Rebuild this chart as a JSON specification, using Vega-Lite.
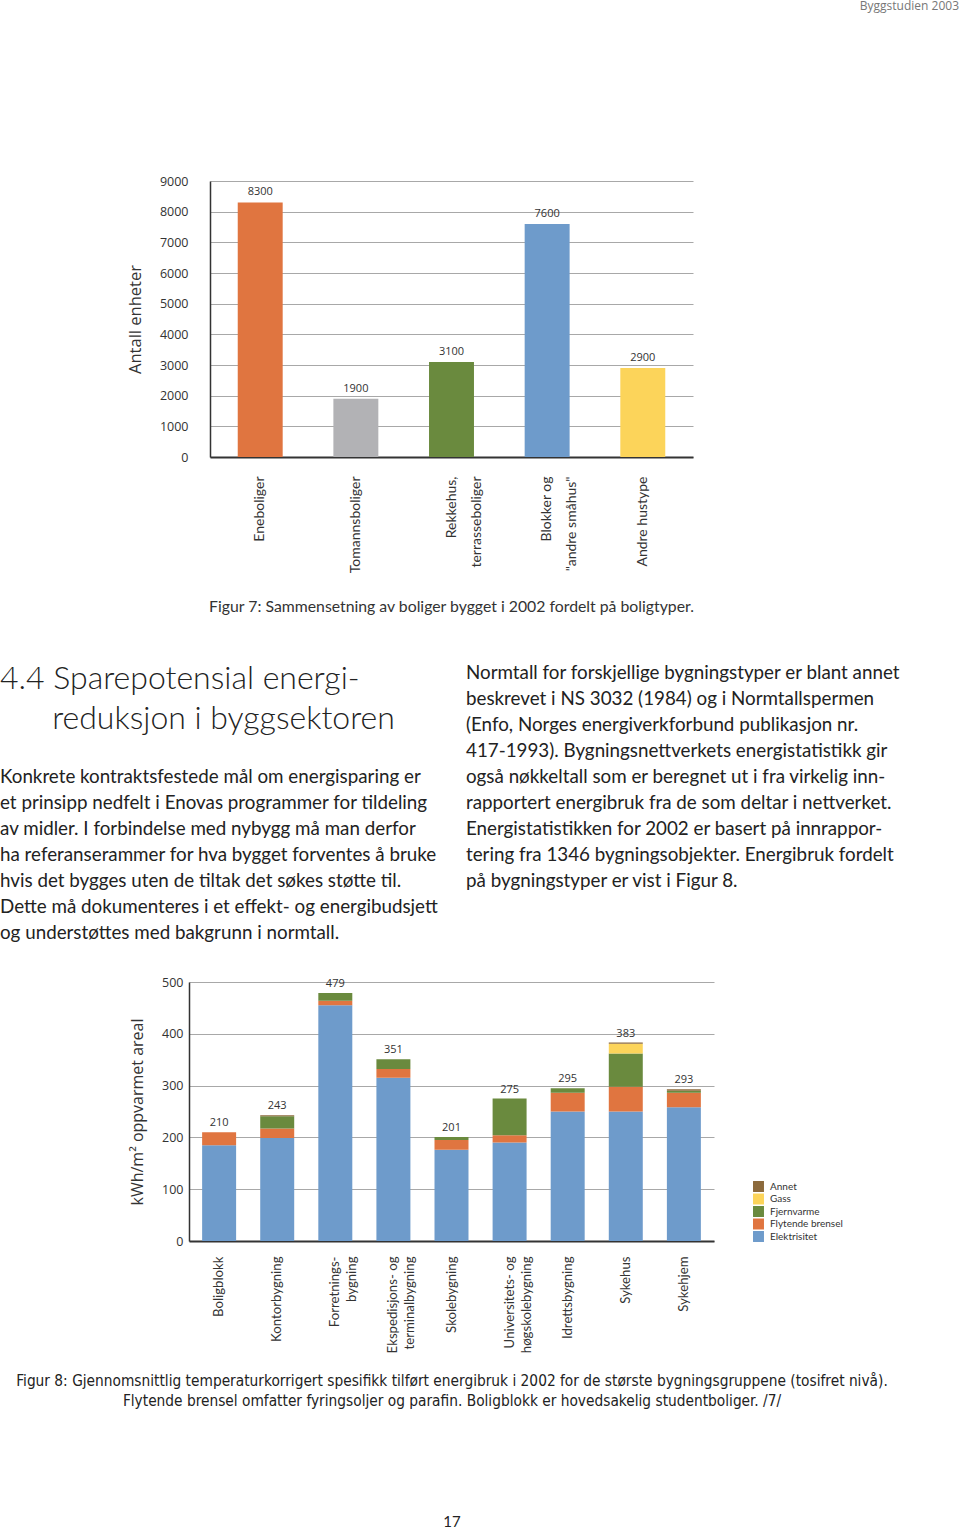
{
  "$schema": "https://vega.github.io/schema/vega-lite/v6.json",
  "padding": 0,
  "background": "white",
  "spacing": 0,
  "resolve": {"scale": {"color": "independent", "x": "independent", "y": "independent"}, "legend": {"color": "independent"}},
  "config": {
    "view": {"stroke": null},
    "font": "Lato",
    "concat": {"spacing": 0},
    "title": {"font": "Lato", "fontWeight": "normal", "color": "#222"},
    "axis": {"labelFont": "Open Sans", "titleFont": "Open Sans", "labelColor": "#333", "titleColor": "#333", "titleFontWeight": "normal", "gridColor": "#a8a8a8", "gridWidth": 1, "domainColor": "#333", "ticks": false, "tickSize": 0}
  },
  "datasets": {
    "boliger": [
      {"type": "Eneboliger", "antall": 8300},
      {"type": "Tomannsboliger", "antall": 1900},
      {"type": "Rekkehus,\nterrasseboliger", "antall": 3100},
      {"type": "Blokker og\n\"andre småhus\"", "antall": 7600},
      {"type": "Andre hustype", "antall": 2900}
    ],
    "energi": [
      {"bygning": "Boligblokk", "kilde": "Elektrisitet", "kwh": 185},
      {"bygning": "Boligblokk", "kilde": "Flytende brensel", "kwh": 25},
      {"bygning": "Kontorbygning", "kilde": "Elektrisitet", "kwh": 199},
      {"bygning": "Kontorbygning", "kilde": "Flytende brensel", "kwh": 18},
      {"bygning": "Kontorbygning", "kilde": "Fjernvarme", "kwh": 24},
      {"bygning": "Kontorbygning", "kilde": "Annet", "kwh": 2},
      {"bygning": "Forretnings-\nbygning", "kilde": "Elektrisitet", "kwh": 455},
      {"bygning": "Forretnings-\nbygning", "kilde": "Flytende brensel", "kwh": 9},
      {"bygning": "Forretnings-\nbygning", "kilde": "Fjernvarme", "kwh": 15},
      {"bygning": "Ekspedisjons- og\nterminalbygning", "kilde": "Elektrisitet", "kwh": 315},
      {"bygning": "Ekspedisjons- og\nterminalbygning", "kilde": "Flytende brensel", "kwh": 17},
      {"bygning": "Ekspedisjons- og\nterminalbygning", "kilde": "Fjernvarme", "kwh": 19},
      {"bygning": "Skolebygning", "kilde": "Elektrisitet", "kwh": 176},
      {"bygning": "Skolebygning", "kilde": "Flytende brensel", "kwh": 19},
      {"bygning": "Skolebygning", "kilde": "Fjernvarme", "kwh": 6},
      {"bygning": "Universitets- og\nhøgskolebygning", "kilde": "Elektrisitet", "kwh": 190},
      {"bygning": "Universitets- og\nhøgskolebygning", "kilde": "Flytende brensel", "kwh": 14},
      {"bygning": "Universitets- og\nhøgskolebygning", "kilde": "Fjernvarme", "kwh": 71},
      {"bygning": "Idrettsbygning", "kilde": "Elektrisitet", "kwh": 250},
      {"bygning": "Idrettsbygning", "kilde": "Flytende brensel", "kwh": 36},
      {"bygning": "Idrettsbygning", "kilde": "Fjernvarme", "kwh": 9},
      {"bygning": "Sykehus", "kilde": "Elektrisitet", "kwh": 250},
      {"bygning": "Sykehus", "kilde": "Flytende brensel", "kwh": 48},
      {"bygning": "Sykehus", "kilde": "Fjernvarme", "kwh": 64},
      {"bygning": "Sykehus", "kilde": "Gass", "kwh": 19},
      {"bygning": "Sykehus", "kilde": "Annet", "kwh": 2},
      {"bygning": "Sykehjem", "kilde": "Elektrisitet", "kwh": 258},
      {"bygning": "Sykehjem", "kilde": "Flytende brensel", "kwh": 28},
      {"bygning": "Sykehjem", "kilde": "Fjernvarme", "kwh": 4},
      {"bygning": "Sykehjem", "kilde": "Annet", "kwh": 3}
    ],
    "totaler": [
      {"bygning": "Boligblokk", "kwh": 210},
      {"bygning": "Kontorbygning", "kwh": 243},
      {"bygning": "Forretnings-\nbygning", "kwh": 479},
      {"bygning": "Ekspedisjons- og\nterminalbygning", "kwh": 351},
      {"bygning": "Skolebygning", "kwh": 201},
      {"bygning": "Universitets- og\nhøgskolebygning", "kwh": 275},
      {"bygning": "Idrettsbygning", "kwh": 295},
      {"bygning": "Sykehus", "kwh": 383},
      {"bygning": "Sykehjem", "kwh": 293}
    ]
  },
  "vconcat": [
    {
      "width": 959, "height": 162,
      "title": {"text": "Byggstudien 2003", "anchor": "end", "fontSize": 12, "color": "#777", "offset": 0, "font": "Open Sans"},
      "data": {"values": []},
      "mark": "text"
    },
    {
      "spacing": 0,
      "resolve": {"scale": {"color": "independent"}},
      "hconcat": [
        {"width": 127, "height": 1, "data": {"values": []}, "mark": "text"},
        {
          "width": 483, "height": 276,
          "data": {"name": "boliger"},
          "title": {"text": "Figur 7: Sammensetning av boliger bygget i 2002 fordelt på boligtyper.", "orient": "bottom", "anchor": "middle", "frame": "group", "fontSize": 15.8, "offset": 27, "color": "#333"},
          "encoding": {
            "x": {"field": "type", "type": "nominal", "sort": null,
              "scale": {"paddingInner": 0.53, "paddingOuter": 0.29},
              "axis": {"title": null, "labelAngle": -90, "labelAlign": "right", "labelBaseline": "middle", "labelPadding": 19, "labelExpr": "split(datum.value, '\\n')", "labelFont": "Lato", "labelFontSize": 14, "labelLineHeight": 25, "domainWidth": 2, "grid": false}},
            "y": {"field": "antall", "type": "quantitative", "scale": {"domain": [0, 9000]},
              "axis": {"values": [0, 1000, 2000, 3000, 4000, 5000, 6000, 7000, 8000, 9000], "format": "d", "title": "Antall enheter", "titleFontSize": 16.5, "titlePadding": 16, "labelPadding": 22, "labelFontSize": 12.5, "domainWidth": 1.5}}
          },
          "layer": [
            {
              "mark": {"type": "bar"},
              "encoding": {
                "color": {"field": "type", "type": "nominal", "legend": null,
                  "scale": {"domain": ["Eneboliger", "Tomannsboliger", "Rekkehus,\nterrasseboliger", "Blokker og\n\"andre småhus\"", "Andre hustype"], "range": ["#E07540", "#B2B2B5", "#6A8A3E", "#6E9BCB", "#FCD45A"]}}
              }
            },
            {
              "mark": {"type": "text", "dy": -10, "fontSize": 11, "font": "Open Sans", "color": "#333"},
              "encoding": {
                "text": {"field": "antall", "type": "quantitative", "format": "d"}
              }
            }
          ]
        }
      ]
    },
    {"width": 1, "height": 48, "data": {"values": []}, "mark": "text"},
    {
      "spacing": 0,
      "hconcat": [
        {
          "width": 466, "height": 1,
          "data": {"values": []}, "mark": "text",
          "title": {
            "text": ["4.4 Sparepotensial energi-", "\u200b\u00a0\u00a0\u00a0\u00a0\u00a0\u00a0reduksjon i byggsektoren"],
            "subtitle": ["Konkrete kontraktsfestede mål om energisparing er", "et prinsipp nedfelt i Enovas programmer for tildeling", "av midler. I forbindelse med nybygg må man derfor", "ha referanserammer for hva bygget forventes å bruke", "hvis det bygges uten de tiltak det søkes støtte til.", "Dette må dokumenteres i et effekt- og energibudsjett", "og understøttes med bakgrunn i normtall."],
            "orient": "bottom", "anchor": "start", "frame": "group", "offset": 0,
            "fontSize": 32, "fontWeight": 300, "lineHeight": 40, "color": "#222",
            "subtitleFontSize": 18.8, "subtitleLineHeight": 26, "subtitleColor": "#222", "subtitlePadding": 32, "subtitleFont": "Lato"
          }
        },
        {
          "width": 494, "height": 1,
          "data": {"values": []}, "mark": "text",
          "title": {
            "text": ["Normtall for forskjellige bygningstyper er blant annet", "beskrevet i NS 3032 (1984) og i Normtallspermen", "(Enfo, Norges energiverkforbund publikasjon nr.", "417-1993). Bygningsnettverkets energistatistikk gir", "også nøkkeltall som er beregnet ut i fra virkelig inn-", "rapportert energibruk fra de som deltar i nettverket.", "Energistatistikken for 2002 er basert på innrappor-", "tering fra 1346 bygningsobjekter. Energibruk fordelt", "på bygningstyper er vist i Figur 8."],
            "orient": "bottom", "anchor": "start", "frame": "group", "offset": 0,
            "fontSize": 18.8, "lineHeight": 26, "color": "#222"
          }
        }
      ]
    },
    {"width": 1, "height": 33, "data": {"values": []}, "mark": "text"},
    {
      "spacing": 0,
      "resolve": {"scale": {"color": "independent"}},
      "hconcat": [
        {"width": 129, "height": 1, "data": {"values": []}, "mark": "text"},
        {
          "width": 525, "height": 259,
          "encoding": {
            "x": {"field": "bygning", "type": "nominal", "sort": null,
              "scale": {"paddingInner": 0.415, "paddingOuter": 0.226},
              "axis": {"title": null, "labelAngle": -90, "labelAlign": "right", "labelBaseline": "middle", "labelPadding": 15, "labelExpr": "split(datum.value, '\\n')", "labelFont": "Lato", "labelFontSize": 13.2, "labelLineHeight": 17, "domainWidth": 2, "grid": false}},
            "y": {"field": "kwh", "type": "quantitative", "scale": {"domain": [0, 500]},
              "axis": {"values": [0, 100, 200, 300, 400, 500], "title": "kWh/m² oppvarmet areal", "titleFontSize": 16, "titlePadding": 16, "labelPadding": 6, "labelFontSize": 12.5, "domainWidth": 1.5}}
          },
          "layer": [
            {
              "data": {"name": "energi"},
              "transform": [{"calculate": "indexof(['Elektrisitet','Flytende brensel','Fjernvarme','Gass','Annet'], datum.kilde)", "as": "rekkefolge"}],
              "mark": {"type": "bar"},
              "encoding": {
                "y": {"field": "kwh", "type": "quantitative", "stack": "zero"},
                "color": {"field": "kilde", "type": "nominal",
                  "scale": {"domain": ["Annet", "Gass", "Fjernvarme", "Flytende brensel", "Elektrisitet"], "range": ["#8C6A3C", "#FCD45A", "#6A8A3E", "#E07540", "#6E9BCB"]},
                  "legend": {"title": null, "orient": "none", "legendX": 564, "legendY": 199, "symbolType": "square", "symbolSize": 120, "symbolStrokeWidth": 0, "labelFontSize": 10, "labelFont": "Lato", "labelColor": "#333", "rowPadding": 1.5, "labelOffset": 6, "padding": 0}},
                "order": {"field": "rekkefolge", "type": "quantitative"}
              }
            },
            {
              "data": {"name": "totaler"},
              "mark": {"type": "text", "dy": -9, "fontSize": 11, "font": "Open Sans", "color": "#333"},
              "encoding": {
                "text": {"field": "kwh", "type": "quantitative"}
              }
            }
          ]
        }
      ]
    },
    {
      "width": 904, "height": 1,
      "data": {"values": []}, "mark": "text",
      "title": {"text": ["Figur 8: Gjennomsnittlig temperaturkorrigert spesifikk tilført energibruk i 2002 for de største bygningsgruppene (tosifret nivå).", "Flytende brensel omfatter fyringsoljer og parafin. Boligblokk er hovedsakelig studentboliger. /7/"], "orient": "bottom", "anchor": "middle", "frame": "group", "fontSize": 15.3, "lineHeight": 20, "font": "DejaVu Sans Condensed", "offset": 20, "color": "#222"}
    },
    {"width": 1, "height": 104, "data": {"values": []}, "mark": "text"},
    {
      "width": 904, "height": 1,
      "data": {"values": []}, "mark": "text",
      "title": {"text": "17", "orient": "bottom", "anchor": "middle", "frame": "group", "fontSize": 15, "offset": 0, "color": "#222"}
    }
  ]
}
